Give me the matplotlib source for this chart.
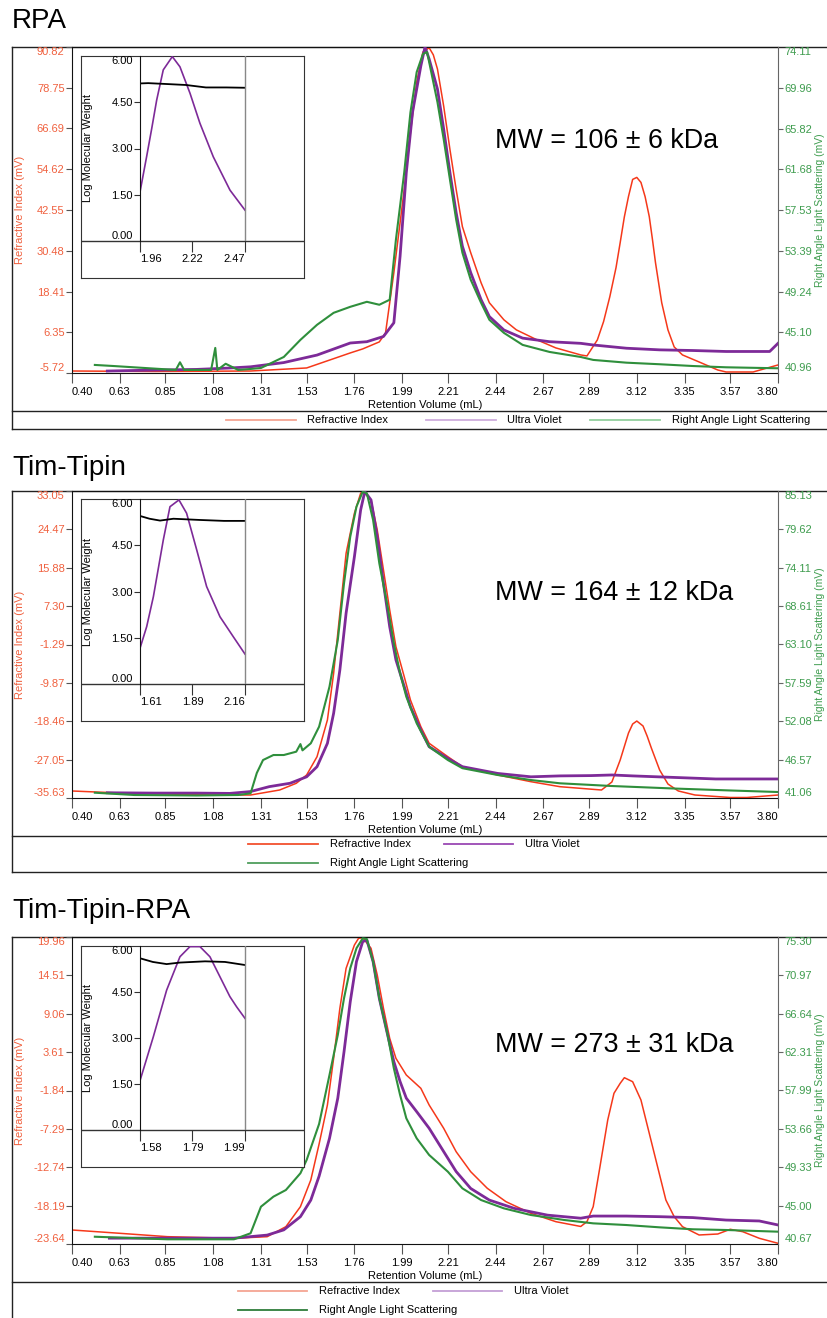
import matplotlib
matplotlib.use("Agg")
import matplotlib.pyplot as plt

plt.rcParams['font.family'] = ['Liberation Sans', 'DejaVu Sans']

W, H = 828, 1318
RED = '#f5381a'
RED_TXT = '#f0603e'
PURPLE = '#7d2a98'
GREEN = '#2f8f3c'
GREEN_TXT = '#3e9c4e'

# ---------------- data ----------------
titles = ['RPA', 'Tim-Tipin', 'Tim-Tipin-RPA']
mw_labels = ['MW = 106 ± 6 kDa', 'MW = 164 ± 12 kDa', 'MW = 273 ± 31 kDa']
series_names = ['Refractive Index', 'Ultra Violet', 'Right Angle Light Scattering']

x_ticks = [0.40, 0.63, 0.85, 1.08, 1.31, 1.53, 1.76, 1.99, 2.21, 2.44, 2.67, 2.89, 3.12, 3.35, 3.57, 3.80]

ri_ticks_rpa = [-5.72, 6.35, 18.41, 30.48, 42.55, 54.62, 66.69, 78.75, 90.82]
ls_ticks_rpa = [40.96, 45.10, 49.24, 53.39, 57.53, 61.68, 65.82, 69.96, 74.11]
ri_ticks_tt = [-35.63, -27.05, -18.46, -9.87, -1.29, 7.30, 15.88, 24.47, 33.05]
ls_ticks_tt = [41.06, 46.57, 52.08, 57.59, 63.10, 68.61, 74.11, 79.62, 85.13]
ri_ticks_ttr = [-23.64, -18.19, -12.74, -7.29, -1.84, 3.61, 9.06, 14.51, 19.96]
ls_ticks_ttr = [40.67, 45.00, 49.33, 53.66, 57.99, 62.31, 66.64, 70.97, 75.30]

logmw_ticks = [0.00, 1.50, 3.00, 4.50, 6.00]

# RPA
ri_x_rpa = [0.40, 0.80, 1.26, 1.53, 1.74, 1.80, 1.88, 1.91, 1.95, 2.00, 2.03, 2.06, 2.09, 2.12,
            2.14, 2.16, 2.19, 2.22, 2.25, 2.28, 2.32, 2.37, 2.41, 2.48, 2.54, 2.64, 2.73, 2.85,
            2.88, 2.93, 2.96, 2.99, 3.02, 3.04, 3.06, 3.08, 3.10, 3.12, 3.14, 3.16, 3.18, 3.195,
            3.21, 3.225, 3.24, 3.27, 3.30, 3.34, 3.42, 3.51, 3.55, 3.68, 3.80]
ri_rpa = [-5.13, -5.27, -5.13, -4.23, 0.22, 1.41, 3.49, 6.16, 23.99, 48.64, 65.57, 80.42, 89.34, 90.6,
          88.5, 84.29, 73.30, 60.52, 48.64, 37.65, 29.93, 21.02, 15.08, 10.03, 7.05, 4.08, 1.71, -0.37,
          -0.67, 4.08, 9.5, 16.86, 25.5, 32.90, 40.5, 46.56, 51.61, 52.20, 50.72, 46.5, 40.62, 34.0,
          26.96, 21.0, 15.08, 7.05, 2.00, -0.37, -2.45, -4.83, -5.42, -5.42, -3.34]
uv_x_rpa = [0.57, 0.80, 1.00, 1.15, 1.26, 1.42, 1.58, 1.74, 1.82, 1.90, 1.95, 1.98, 2.01, 2.04,
            2.08, 2.10, 2.12, 2.16, 2.19, 2.22, 2.25, 2.28, 2.32, 2.37, 2.41, 2.48, 2.57, 2.70,
            2.85, 2.91, 3.07, 3.23, 3.39, 3.55, 3.76, 3.80]
uv_rpa = [0.6, 0.9, 1.1, 1.5, 1.9, 3.2, 5.5, 9.2, 9.6, 11.2, 15.4, 35.8, 61.5, 80.0,
          94.2, 100.0, 96.3, 87.1, 74.8, 61.5, 49.2, 38.9, 30.8, 22.5, 17.3, 13.2, 10.7, 9.6,
          9.1, 8.6, 7.6, 7.1, 6.9, 6.6, 6.6, 9.1]
ls_x_rpa = [0.51, 0.60, 0.75, 0.90, 0.92, 0.94, 1.00, 1.07, 1.09, 1.10, 1.14, 1.20, 1.26, 1.31,
            1.42, 1.50, 1.58, 1.66, 1.74, 1.82, 1.88, 1.93, 1.96, 2.00, 2.03, 2.06, 2.09, 2.11,
            2.13, 2.16, 2.19, 2.22, 2.25, 2.28, 2.32, 2.37, 2.41, 2.48, 2.57, 2.70, 2.85, 2.91,
            3.07, 3.23, 3.39, 3.55, 3.80]
ls_rpa = [41.78, 41.67, 41.47, 41.27, 42.05, 41.27, 41.27, 41.27, 43.51, 41.27, 41.90, 41.27, 41.37, 41.47,
          42.59, 44.33, 45.86, 47.08, 47.69, 48.20, 47.90, 48.41, 54.53, 61.36, 67.48, 71.56, 73.40, 73.60,
          71.56, 68.50, 64.73, 60.65, 56.57, 53.20, 50.45, 48.10, 46.37, 45.04, 43.82, 43.10, 42.59, 42.29,
          42.01, 41.85, 41.67, 41.54, 41.44]
in_uv_x_rpa = [1.96, 1.992, 2.017, 2.041, 2.073, 2.117, 2.154, 2.203, 2.251, 2.316, 2.397, 2.47]
in_uv_rpa = [1.59, 2.73, 3.65, 4.57, 5.55, 5.98, 5.65, 4.79, 3.82, 2.73, 1.65, 1.00]
in_mw_x_rpa = [1.96, 2.00, 2.093, 2.183, 2.28, 2.38, 2.47]
in_mw_rpa = [5.11, 5.12, 5.09, 5.06, 4.98, 4.98, 4.97]
in_ticks_rpa = [1.96, 2.215, 2.47]
in_labels_rpa = ['1.96', '2.22', '2.47']

# Tim-Tipin
ri_x_tt = [0.40, 0.63, 1.08, 1.26, 1.40, 1.48, 1.53, 1.58, 1.63, 1.66, 1.69, 1.72, 1.76, 1.79, 1.80,
           1.84, 1.87, 1.90, 1.93, 1.96, 2.00, 2.03, 2.08, 2.12, 2.21, 2.28, 2.45, 2.61, 2.75, 2.89,
           2.95, 3.00, 3.04, 3.08, 3.10, 3.12, 3.15, 3.17, 3.19, 3.23, 3.27, 3.32, 3.40, 3.57, 3.65, 3.80]
ri_tt = [-34.06, -34.51, -34.96, -34.96, -33.84, -32.34, -30.48, -26.39, -18.18, -7.73, 5.69, 19.11, 28.06, 32.53, 33.05,
         31.03, 24.32, 15.37, 6.43, -1.78, -8.49, -13.71, -19.68, -23.39, -26.39, -28.63, -30.48, -31.98, -33.10, -33.62,
         -33.84, -32.05, -27.13, -21.09, -19.08, -18.41, -19.52, -21.8, -24.44, -29.37, -32.50, -34.06, -34.96, -35.52, -35.52, -34.96]
uv_x_tt = [0.57, 0.80, 1.00, 1.16, 1.26, 1.35, 1.45, 1.53, 1.58, 1.63, 1.66, 1.69, 1.72, 1.76, 1.79,
           1.81, 1.84, 1.87, 1.90, 1.93, 1.96, 2.00, 2.03, 2.08, 2.12, 2.21, 2.28, 2.45, 2.61, 2.75,
           2.90, 3.00, 3.10, 3.30, 3.50, 3.80]
uv_tt = [1.7, 1.6, 1.6, 1.5, 2.1, 3.7, 4.8, 6.9, 10.2, 17.8, 27.6, 41.7, 60.2, 78.6, 93.8,
         99.8, 97.1, 85.1, 69.9, 55.8, 45.0, 36.3, 29.7, 22.1, 16.7, 12.9, 10.2, 8.0, 6.9, 7.2,
         7.3, 7.5, 7.2, 6.7, 6.2, 6.2]
ls_x_tt = [0.51, 0.70, 1.00, 1.20, 1.26, 1.29, 1.32, 1.37, 1.42, 1.48, 1.50, 1.51, 1.55, 1.59, 1.64,
           1.68, 1.71, 1.74, 1.77, 1.80, 1.82, 1.85, 1.88, 1.92, 1.95, 1.98, 2.01, 2.06, 2.12, 2.21,
           2.28, 2.45, 2.61, 2.75, 3.00, 3.30, 3.57, 3.80]
ls_tt = [41.82, 41.49, 41.42, 41.49, 41.73, 44.65, 46.51, 47.23, 47.23, 47.71, 48.80, 47.90, 48.91, 51.30, 57.04,
         63.74, 71.88, 78.57, 82.88, 85.03, 84.80, 80.97, 74.75, 68.52, 63.27, 58.96, 55.60, 51.78, 48.42, 46.51,
         45.34, 44.36, 43.64, 43.17, 42.78, 42.42, 42.14, 41.92]
in_uv_x_tt = [1.61, 1.645, 1.68, 1.732, 1.767, 1.814, 1.854, 1.907, 1.959, 2.029, 2.099, 2.16]
in_uv_tt = [1.16, 1.86, 2.83, 4.67, 5.75, 5.97, 5.54, 4.35, 3.16, 2.18, 1.53, 0.97]
in_mw_x_tt = [1.61, 1.66, 1.715, 1.785, 1.924, 2.05, 2.16]
in_mw_tt = [5.45, 5.36, 5.30, 5.36, 5.32, 5.29, 5.29]
in_ticks_tt = [1.61, 1.885, 2.16]
in_labels_tt = ['1.61', '1.89', '2.16']

# Tim-Tipin-RPA
ri_x_ttr = [0.40, 0.63, 0.86, 1.18, 1.34, 1.43, 1.50, 1.55, 1.59, 1.63, 1.66, 1.69, 1.72, 1.76, 1.78,
            1.80, 1.84, 1.87, 1.90, 1.93, 1.96, 2.01, 2.08, 2.12, 2.19, 2.25, 2.32, 2.40, 2.49, 2.61,
            2.73, 2.85, 2.88, 2.91, 2.94, 2.98, 3.01, 3.04, 3.06, 3.10, 3.14, 3.18, 3.22, 3.26, 3.30,
            3.34, 3.42, 3.51, 3.57, 3.63, 3.71, 3.80]
ri_ttr = [-21.65, -22.12, -22.60, -22.83, -22.60, -21.18, -18.34, -14.55, -9.44, -3.90, 2.73, 9.83, 15.51, 18.82, 19.77,
          19.86, 18.36, 14.56, 9.83, 5.57, 2.73, 0.36, -1.53, -3.90, -7.21, -10.53, -13.37, -15.73, -17.63, -19.28,
          -20.47, -21.15, -20.47, -18.34, -13.13, -6.03, -2.24, -0.82, -0.02, -0.59, -3.19, -7.92, -12.66, -17.39, -19.76,
          -21.18, -22.36, -22.22, -21.55, -21.89, -22.83, -23.54]
uv_x_ttr = [0.58, 0.86, 1.18, 1.34, 1.42, 1.50, 1.55, 1.59, 1.64, 1.68, 1.71, 1.74, 1.77, 1.80, 1.82,
            1.85, 1.88, 1.92, 1.95, 1.98, 2.01, 2.06, 2.12, 2.19, 2.25, 2.32, 2.41, 2.53, 2.69, 2.85,
            2.91, 3.07, 3.23, 3.39, 3.55, 3.71, 3.80]
uv_ttr = [1.9, 1.9, 1.9, 2.9, 4.6, 8.9, 14.3, 22.1, 34.4, 47.5, 62.6, 78.9, 92.0, 98.5, 99.0,
          92.0, 80.0, 68.1, 59.4, 52.9, 47.5, 43.1, 37.7, 30.1, 23.6, 18.1, 14.3, 11.6, 9.4, 8.4,
          9.1, 9.1, 8.9, 8.6, 7.8, 7.5, 6.2]
ls_x_ttr = [0.51, 0.86, 1.18, 1.26, 1.31, 1.37, 1.43, 1.50, 1.53, 1.59, 1.64, 1.68, 1.71, 1.74, 1.77,
            1.80, 1.82, 1.85, 1.88, 1.92, 1.95, 1.98, 2.01, 2.06, 2.12, 2.21, 2.28, 2.37, 2.48, 2.61,
            2.77, 2.91, 3.07, 3.23, 3.39, 3.55, 3.80]
ls_ttr = [41.49, 41.20, 41.20, 41.88, 44.88, 46.01, 46.76, 48.65, 50.15, 54.21, 59.73, 64.25, 68.39, 71.77, 74.03,
          75.15, 75.07, 72.51, 68.39, 64.25, 60.49, 57.48, 54.85, 52.59, 50.71, 48.83, 46.95, 45.63, 44.69, 43.94,
          43.38, 43.00, 42.81, 42.55, 42.33, 42.25, 42.06]
in_uv_x_ttr = [1.58, 1.632, 1.684, 1.736, 1.775, 1.814, 1.853, 1.892, 1.931, 1.957, 1.99]
in_uv_ttr = [1.61, 3.04, 4.56, 5.65, 5.98, 5.98, 5.65, 5.00, 4.35, 4.02, 3.64]
in_mw_x_ttr = [1.58, 1.63, 1.684, 1.736, 1.834, 1.912, 1.99]
in_mw_ttr = [5.60, 5.48, 5.41, 5.46, 5.50, 5.48, 5.38]
in_ticks_ttr = [1.58, 1.785, 1.99]
in_labels_ttr = ['1.58', '1.79', '1.99']

# ---------------- layout (pixels) ----------------
fig = plt.figure(figsize=(W / 100, H / 100), dpi=100)
bg = fig.add_axes([0, 0, 1, 1])
bg.set_xlim(0, W)
bg.set_ylim(H, 0)
bg.axis('off')


def rect(x0, y0, x1, y1):
    return [x0 / W, 1 - y1 / H, (x1 - x0) / W, (y1 - y0) / H]


def fix_y_ends(axis, right=False):
    ticks = axis.get_major_ticks()
    for t, va in ((ticks[0], 'bottom'), (ticks[-1], 'top')):
        if right:
            t.tick2line.set_visible(False)
            t.label2.set_va(va)
        else:
            t.tick1line.set_visible(False)
            t.label1.set_va(va)


def fix_x_ends(axis):
    ticks = axis.get_major_ticks()
    ticks[0].label1.set_ha('left')
    ticks[-1].label1.set_ha('right')


panels = [
    dict(top=47, bottom=373, xline=411, lbot=429, title_y=28, mw_y=148, itop=56, ibot=241, ifb=278,
         ri_x=ri_x_rpa, ri=ri_rpa, uv_x=uv_x_rpa, uv=uv_rpa, ls_x=ls_x_rpa, ls=ls_rpa,
         ri_t=ri_ticks_rpa, ls_t=ls_ticks_rpa, in_t=in_ticks_rpa, in_l=in_labels_rpa,
         iux=in_uv_x_rpa, iu=in_uv_rpa, imx=in_mw_x_rpa, im=in_mw_rpa,
         leg=[(226, 296, 307, 420), (426, 496, 507, 420), (590, 660, 672, 420)],
         leg_c=['#f5a593', '#cfaedd', '#93d09e']),
    dict(top=491, bottom=798, xline=836, lbot=872, title_y=475, mw_y=600, itop=499, ibot=684, ifb=721,
         ri_x=ri_x_tt, ri=ri_tt, uv_x=uv_x_tt, uv=uv_tt, ls_x=ls_x_tt, ls=ls_tt,
         ri_t=ri_ticks_tt, ls_t=ls_ticks_tt, in_t=in_ticks_tt, in_l=in_labels_tt,
         iux=in_uv_x_tt, iu=in_uv_tt, imx=in_mw_x_tt, im=in_mw_tt,
         leg=[(248, 318, 330, 844), (444, 513, 525, 844), (248, 318, 330, 863)],
         leg_c=['#f2512e', '#9a48b3', '#4f9e5d']),
    dict(top=937, bottom=1244, xline=1282, lbot=1330, title_y=918, mw_y=1052, itop=946, ibot=1130, ifb=1167,
         ri_x=ri_x_ttr, ri=ri_ttr, uv_x=uv_x_ttr, uv=uv_ttr, ls_x=ls_x_ttr, ls=ls_ttr,
         ri_t=ri_ticks_ttr, ls_t=ls_ticks_ttr, in_t=in_ticks_ttr, in_l=in_labels_ttr,
         iux=in_uv_x_ttr, iu=in_uv_ttr, imx=in_mw_x_ttr, im=in_mw_ttr,
         leg=[(238, 307, 319, 1291), (433, 502, 514, 1291), (238, 307, 319, 1310)],
         leg_c=['#f5a593', '#c49fd6', '#2e7d3a']),
]

for i, p in enumerate(panels):
    top, bottom = p['top'], p['bottom']
    mid = (top + bottom) / 2

    # outer frame and separators
    for yy in (top, p['xline'], p['lbot']):
        bg.plot([12, W + 5], [yy, yy], color='#222', lw=1)
    bg.plot([12, 12], [top, p['lbot']], color='#222', lw=1)

    bg.text(12, p['title_y'], titles[i], fontsize=20, va='baseline', ha='left')
    bg.text(495, p['mw_y'], mw_labels[i], fontsize=19.4, va='baseline', ha='left')
    bg.text(20, mid, 'Refractive Index (mV)', rotation=90, color=RED_TXT, fontsize=8,
            ha='center', va='center')
    bg.text(815, mid, 'Right Angle Light Scattering (mV)', rotation=90, color=GREEN_TXT,
            fontsize=7.5, ha='left', va='center')
    bg.text(425, bottom + 32, 'Retention Volume (mL)', fontsize=8, ha='center', va='center')

    # legend
    for (x0, x1, tx, ly), name, c in zip(p['leg'], series_names, p['leg_c']):
        bg.plot([x0, x1], [ly, ly], color=c, lw=1.3)
        bg.text(tx, ly, name, fontsize=8, ha='left', va='center')

    # main axes: refractive index
    ax = fig.add_axes(rect(72, top, 778, bottom))
    ax.set_facecolor('none')
    ax.plot(p['ri_x'], p['ri'], color=RED, lw=1.1)
    ax.set_xlim(0.40, 3.80)
    ax.set_ylim(p['ri_t'][0], p['ri_t'][-1])
    ax.set_xticks(x_ticks)
    ax.set_xticklabels([f'{v:.2f}' for v in x_ticks])
    ax.set_yticks(p['ri_t'])
    ax.set_yticklabels([f'{v:.2f}' for v in p['ri_t']])
    ax.tick_params(axis='x', direction='out', length=7.5, width=0.8, color='#555',
                   labelsize=8, pad=2.5)
    ax.tick_params(axis='y', direction='out', length=4.3, width=0.8, color='#555',
                   labelsize=8, labelcolor=RED_TXT, pad=1)
    ax.spines['right'].set_visible(False)
    for s in ('left', 'bottom', 'top'):
        ax.spines[s].set_color('#111')
    fix_y_ends(ax.yaxis)
    fix_x_ends(ax.xaxis)

    # ultra violet (scaled, no axis)
    axu = ax.twinx()
    axu.set_ylim(0, 100)
    axu.axis('off')
    axu.plot(p['uv_x'], p['uv'], color=PURPLE, lw=2.0)

    # light scattering on right axis
    axr = ax.twinx()
    axr.plot(p['ls_x'], p['ls'], color=GREEN, lw=1.5)
    axr.set_xlim(0.40, 3.80)
    axr.set_ylim(p['ls_t'][0], p['ls_t'][-1])
    axr.set_yticks(p['ls_t'])
    axr.set_yticklabels([f'{v:.2f}' for v in p['ls_t']])
    axr.tick_params(axis='y', direction='out', length=3.6, width=0.8, color='#666',
                    labelsize=8, labelcolor=GREEN_TXT, pad=1)
    for s in ('left', 'bottom', 'top'):
        axr.spines[s].set_visible(False)
    axr.spines['right'].set_color('#666')
    fix_y_ends(axr.yaxis, right=True)

    # inset: log molecular weight
    fr = fig.add_axes(rect(81, p['itop'], 304, p['ifb']))
    fr.set_zorder(5)
    fr.set_facecolor('white')
    fr.set_xticks([])
    fr.set_yticks([])
    fr.set_xlim(0, 1)
    fr.set_ylim(0, 1)
    for s in fr.spines.values():
        s.set_color('#333')
    fr.axhline((p['ifb'] - p['ibot']) / (p['ifb'] - p['itop']), color='#333', lw=1)

    a, b = p['in_t'][0], p['in_t'][-1]
    right_lim = a + (b - a) * (304 - 140) / (245 - 140)
    inn = fig.add_axes(rect(140, p['itop'], 304, p['ibot']))
    inn.set_zorder(6)
    inn.set_facecolor('none')
    inn.plot(p['iux'], p['iu'], color=PURPLE, lw=1.2)
    inn.plot(p['imx'], p['im'], color='black', lw=1.3)
    inn.axvline(b, color='#888', lw=1)
    inn.set_xlim(a, right_lim)
    inn.set_ylim(0, 6)
    inn.set_xticks(p['in_t'])
    inn.set_xticklabels(p['in_l'])
    inn.set_yticks(logmw_ticks)
    inn.set_yticklabels([f'{v:.2f}' for v in logmw_ticks])
    inn.tick_params(axis='x', direction='out', length=8, width=0.8, color='#333',
                    labelsize=8, pad=1.5)
    inn.tick_params(axis='y', direction='out', length=4.3, width=0.8, color='#333',
                    labelsize=8, pad=1)
    for s in ('top', 'right', 'bottom'):
        inn.spines[s].set_visible(False)
    inn.spines['left'].set_color('#111')
    fix_y_ends(inn.yaxis)
    fix_x_ends(inn.xaxis)
    inn.text((88 - 140) / 164, 0.5, 'Log Molecular Weight', transform=inn.transAxes,
             rotation=90, ha='center', va='center', fontsize=8)
    t = bg.text(192.5, p['itop'] + 216, 'Retention Volume (mL)', fontsize=8,
                ha='center', va='center')
    t.set_zorder(7)

fig.savefig('out.png', dpi=100)
